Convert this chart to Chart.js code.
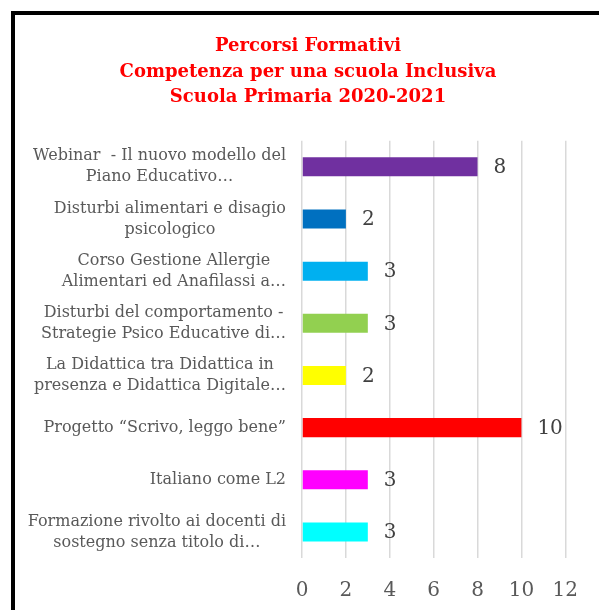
<!DOCTYPE html>
<html>
<head>
<meta charset="utf-8">
<script src="https://cdn.jsdelivr.net/npm/chart.js@4"></script>
<style>
  html, body { margin: 0; padding: 0; background: #fff; overflow: hidden; }
  #wrap { position: relative; width: 599px; height: 610px; }
  #frame { position: absolute; left: 11px; top: 11px; width: 700px; height: 700px;
           border-left: 4px solid #000; border-top: 4px solid #000; pointer-events: none; }
</style>
</head>
<body>
<div id="wrap">
  <canvas id="c" width="599" height="610"></canvas>
  <div id="frame"></div>
</div>
<script>
// data
const titleLines = ['Percorsi Formativi', 'Competenza per una scuola Inclusiva', 'Scuola Primaria 2020-2021'];
const categories = [
  ['Webinar  - Il nuovo modello del', 'Piano Educativo…'],
  ['Disturbi alimentari e disagio', 'psicologico'],
  ['Corso Gestione Allergie', 'Alimentari ed Anafilassi a…'],
  ['Disturbi del comportamento -', 'Strategie Psico Educative di…'],
  ['La Didattica tra Didattica in', 'presenza e Didattica Digitale…'],
  ['Progetto “Scrivo, leggo bene”'],
  ['Italiano come L2'],
  ['Formazione rivolto ai docenti di', 'sostegno senza titolo di…']
];
const values = [8, 2, 3, 3, 2, 10, 3, 3];
const barColors = ['#7030A0', '#0070C0', '#00B0F0', '#92D050', '#FFFF00', '#FF0000', '#FF00FF', '#00FFFF'];
const xMin = 0, xMax = 12, xStep = 2;

const SERIF = "'DejaVu Serif', 'Liberation Serif', serif";
const LBL = '#595959';

// category labels: each block right-aligned, lines centred within it
const yLabels = {
  id: 'yLabels',
  afterDraw(chart) {
    const s = chart.scales.y, ctx = chart.ctx;
    const lh = 21, right = s.right - 16;
    ctx.save();
    ctx.font = `16px ${SERIF}`;
    ctx.fillStyle = LBL;
    ctx.textAlign = 'center';
    ctx.textBaseline = 'middle';
    categories.forEach((lines, i) => {
      const y = s.getPixelForTick(i);
      const w = Math.max(...lines.map(l => ctx.measureText(l).width));
      const cx = right - w / 2;
      const y0 = y - (lines.length - 1) * lh / 2;
      lines.forEach((l, k) => ctx.fillText(l, cx, y0 + k * lh));
    });
    ctx.restore();
  }
};

// value labels at bar ends
const valueLabels = {
  id: 'valueLabels',
  afterDatasetsDraw(chart) {
    const ctx = chart.ctx;
    ctx.save();
    ctx.font = `20px ${SERIF}`;
    ctx.fillStyle = '#404040';
    ctx.textAlign = 'left';
    ctx.textBaseline = 'middle';
    chart.getDatasetMeta(0).data.forEach((bar, i) => {
      ctx.fillText(String(values[i]), bar.x + 16, bar.y + 1);
    });
    ctx.restore();
  }
};

new Chart(document.getElementById('c'), {
  type: 'bar',
  data: {
    labels: categories,
    datasets: [{
      data: values,
      backgroundColor: barColors,
      borderWidth: 0,
      categoryPercentage: 1,
      barPercentage: 0.365
    }]
  },
  options: {
    responsive: false,
    animation: false,
    indexAxis: 'y',
    layout: { padding: { left: 50, right: 33, top: 0, bottom: 0 } },
    plugins: {
      legend: { display: false },
      tooltip: { enabled: false },
      title: {
        display: true,
        text: titleLines,
        color: '#FF0000',
        font: { family: SERIF, size: 18, weight: 'bold', lineHeight: 1.44 },
        padding: { top: 33, bottom: 30 }
      }
    },
    scales: {
      x: {
        min: xMin, max: xMax,
        grid: { color: '#d9d9d9', lineWidth: 1.5, drawTicks: false },
        border: { display: false },
        ticks: { stepSize: xStep, color: LBL, font: { family: SERIF, size: 20 }, padding: 21 },
        afterFit(s) { s.height = 52; }
      },
      y: {
        grid: { display: false },
        border: { display: false },
        ticks: { display: false },
        afterFit(s) { s.width = 252; }
      }
    }
  },
  plugins: [yLabels, valueLabels]
});
</script>
</body>
</html>
